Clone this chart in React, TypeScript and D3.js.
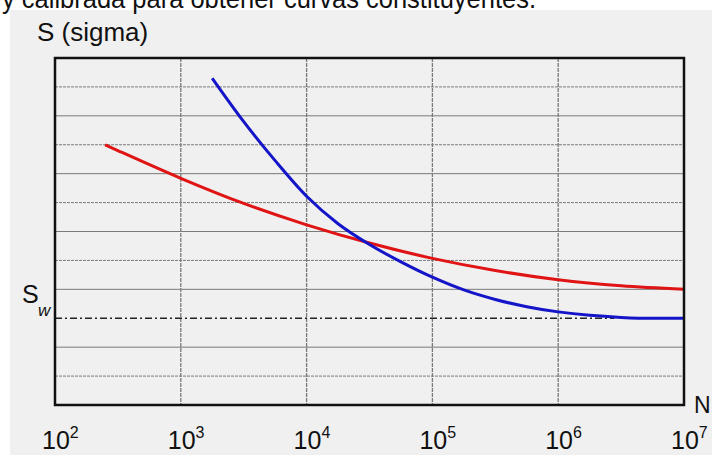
import React from "react";
import * as d3 from "d3";

// S-N curves (N, S in grid units)
const redN = [250, 316, 1000, 3162, 10000, 31623, 100000, 316228, 1000000, 3162278, 10000000];
const redS = [9.0, 8.8, 7.84, 6.97, 6.23, 5.6, 5.07, 4.65, 4.33, 4.12, 4.0];
const blueN = [1778, 3162, 5623, 10000, 17783, 31623, 56234, 100000, 177828, 316228, 562341, 1000000, 1778279, 3162278, 5623413, 10000000];
const blueS = [11.3, 9.8, 8.45, 7.22, 6.27, 5.55, 4.95, 4.42, 3.98, 3.65, 3.4, 3.22, 3.1, 3.03, 3.0, 3.0];
const decades = [2, 3, 4, 5, 6, 7];
const gridRows = [1, 2, 3, 4, 5, 6, 7, 8, 9, 10, 11];
const swLevel = 3;
const swEndN = 2800000;
const caption = "y calibrada para obtener curvas constituyentes.";

const W = 712;
const H = 457;
const m = { left: 55, right: 684, top: 58, bottom: 405 };
const font = "'Liberation Sans', Arial, sans-serif";

export default function App() {
  const x = d3.scaleLog().domain([1e2, 1e7]).range([m.left, m.right]);
  const y = d3.scaleLinear().domain([0, 12]).range([m.bottom, m.top]);

  const line = d3
    .line<[number, number]>()
    .x((d) => x(d[0]))
    .y((d) => y(d[1]))
    .curve(d3.curveMonotoneX);

  const red = redN.map((n, i) => [n, redS[i]] as [number, number]);
  const blue = blueN.map((n, i) => [n, blueS[i]] as [number, number]);

  return (
    <svg
      width={W}
      height={H}
      style={{ position: "absolute", left: 0, top: 0, fontFamily: font }}
    >
      <rect x={0} y={0} width={W} height={H} fill="#ffffff" />
      <rect x={10} y={10} width={W - 10} height={445} fill="#f0f0f0" />
      <text x={2} y={8} fontSize={27} fill="#111" textLength={534} lengthAdjust="spacingAndGlyphs">
        {caption}
      </text>

      <text x={37} y={41} fontSize={26} fill="#111">S (sigma)</text>

      {/* grid */}
      {gridRows.filter((r) => r !== swLevel).map((r) => (
        <line key={"h" + r} x1={m.left} x2={m.right} y1={y(r)} y2={y(r)}
          stroke="#7a7a7a" strokeWidth={1} strokeDasharray={r % 2 ? "3,1" : "none"} />
      ))}
      {decades.slice(1, -1).map((e) => (
        <line key={"v" + e} x1={x(Math.pow(10, e))} x2={x(Math.pow(10, e))} y1={m.top} y2={m.bottom}
          stroke="#7a7a7a" strokeWidth={1.3} strokeDasharray="4,1" />
      ))}

      {/* S_w line */}
      <line x1={m.left} x2={x(swEndN)} y1={y(swLevel)} y2={y(swLevel)}
        stroke="#222" strokeWidth={1.5} strokeDasharray="7,3,2,3" />

      <path d={line(red) || ""} fill="none" stroke="#e01414" strokeWidth={3} />
      <path d={line(blue) || ""} fill="none" stroke="#1414c8" strokeWidth={3} />

      {/* frame */}
      <rect x={m.left} y={m.top} width={m.right - m.left} height={m.bottom - m.top}
        fill="none" stroke="#111" strokeWidth={2.5} />

      {/* axis labels */}
      {decades.map((e) => (
        <text key={"t" + e} x={x(Math.pow(10, e)) - 13} y={449} fontSize={25} fill="#111">
          10<tspan fontSize={16} dy={-11}>{e}</tspan>
        </text>
      ))}
      <text x={694} y={413} fontSize={23} fill="#111">N</text>
      <text x={22} y={303} fontSize={25} fill="#111">S</text>
      <text x={38} y={316} fontSize={17} fontStyle="italic" fill="#111">w</text>
    </svg>
  );
}
